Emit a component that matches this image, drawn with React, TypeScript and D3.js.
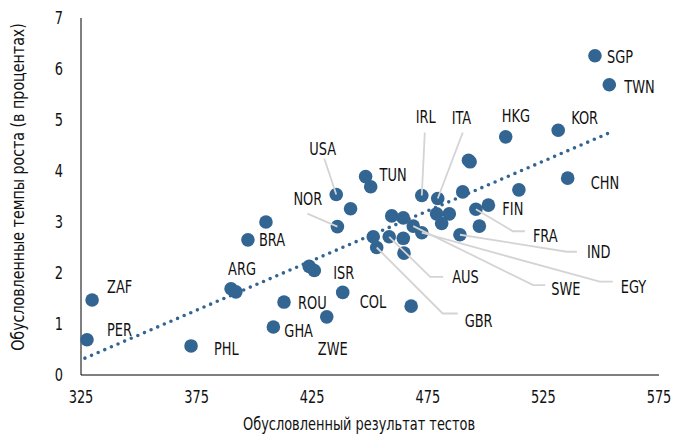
import * as d3 from "d3";

// страны (пустая строка — точка без подписи)
const codes = [
  "PER", "ZAF", "PHL", "ARG", "", "BRA", "", "GHA", "ROU", "ZWE", "COL", "ISR", "",
  "NOR", "USA", "", "TUN", "", "", "", "", "GBR", "AUS", "", "", "SWE", "EGY",
  "", "", "", "IRL", "ITA", "", "", "", "FRA", "FIN", "IND", "", "HKG", "", "KOR",
  "CHN", "SGP", "TWN",
];
const scores = [
  327.6, 329.8, 372.6, 389.9, 392.0, 397.2, 405.0, 408.2, 412.8, 431.3, 438.2, 423.7, 425.9,
  435.9, 435.4, 441.6, 448.1, 450.3, 459.4, 464.4, 451.4, 452.9, 458.3, 464.4, 464.7, 468.7, 472.4,
  478.8, 484.3, 481.0, 472.4, 479.3, 497.3, 490.1, 493.3, 495.8, 501.2, 488.9, 514.4, 508.7, 467.8, 531.4,
  535.5, 547.3, 553.5,
];
const growth = [
  0.69, 1.47, 0.57, 1.69, 1.63, 2.65, 3.0, 0.94, 1.43, 1.14, 1.62, 2.13, 2.05,
  2.91, 3.54, 3.26, 3.89, 3.69, 3.12, 3.08, 2.71, 2.5, 2.71, 2.68, 2.39, 2.92, 2.79,
  3.16, 3.16, 2.97, 3.52, 3.46, 2.92, 3.59, 4.18, 3.25, 3.33, 2.75, 3.63, 4.67, 1.35, 4.8,
  3.86, 6.26, 5.69,
];
const extraScores = [492.6];
const extraGrowth = [4.21];

const xTicks = [325, 375, 425, 475, 525, 575];
const yTicks = [0, 1, 2, 3, 4, 5, 6, 7];
const trendScores = [326.7, 553.1];
const trendGrowth = [0.33, 4.74];

// раскладка подписей: смещение текста от точки и изломы выносок (в пикселях)
const layout: Record<string, { dx: number; dy: number; leader?: number[][] }> = {
  SGP: { dx: 12, dy: 1 },
  TWN: { dx: 15, dy: 2 },
  KOR: { dx: 13, dy: -13 },
  HKG: { dx: -4, dy: -21 },
  CHN: { dx: 23, dy: 4 },
  FIN: { dx: 14, dy: 3 },
  FRA: { dx: 57, dy: 26, leader: [[37, 22], [49, 22]] },
  IND: { dx: 127, dy: 17, leader: [[107, 17], [117, 17]] },
  SWE: { dx: 138, dy: 62, leader: [[120, 59], [132, 59]] },
  EGY: { dx: 199, dy: 54, leader: [[178, 49], [191, 49]] },
  AUS: { dx: 63, dy: 40, leader: [[41, 40], [54, 40]] },
  GBR: { dx: 88, dy: 73, leader: [[66, 66], [81, 66]] },
  NOR: { dx: -44, dy: -28, leader: [[-30, -13]] },
  USA: { dx: -27, dy: -46, leader: [[-12, -36]] },
  TUN: { dx: 14, dy: -2 },
  IRL: { dx: -6, dy: -79, leader: [[3, -63]] },
  ITA: { dx: 14, dy: -81, leader: [[25, -66]] },
  ISR: { dx: 24, dy: 6 },
  COL: { dx: 17, dy: 9 },
  ZWE: { dx: -9, dy: 32 },
  ROU: { dx: 14, dy: 0 },
  GHA: { dx: 11, dy: 3 },
  ARG: { dx: -3, dy: -20 },
  BRA: { dx: 11, dy: 0 },
  ZAF: { dx: 15, dy: -14 },
  PER: { dx: 20, dy: -10 },
  PHL: { dx: 23, dy: 3 },
};

const W = 676;
const H = 435;
const font = "'DejaVu Sans Condensed', 'Liberation Sans Narrow', 'Roboto', sans-serif";
const dotColor = "#336592";

// узкий текст: шрифт сжимается по горизонтали
function T({ x, y, text, anchor = "start", sx = 0.8, size = 18, rotate = 0 }: any) {
  return (
    <g transform={`translate(${x},${y}) rotate(${rotate}) scale(${sx},1)`}>
      <text textAnchor={anchor} dy="0.36em" fontSize={size} fill="#111">
        {text}
      </text>
    </g>
  );
}

export default function App() {
  const x = d3.scaleLinear().domain([325, 575]).range([81, 659]);
  const y = d3.scaleLinear().domain([0, 7]).range([375, 18]);

  const points = codes.map((c, i) => ({ code: c, px: x(scores[i]), py: y(growth[i]) }));
  extraScores.forEach((s, i) => points.push({ code: "", px: x(s), py: y(extraGrowth[i]) }));

  const trend = d3
    .line<number>()
    .x((d) => x(d))
    .y((_, i) => y(trendGrowth[i]))(trendScores);

  return (
    <svg
      width={W}
      height={H}
      style={{ position: "absolute", left: 0, top: 0, background: "#fff" }}
      fontFamily={font}
    >
      {/* оси */}
      <line x1={x(325)} x2={x(575)} y1={y(0)} y2={y(0)} stroke="#000" strokeWidth={1} />
      <line x1={x(325)} x2={x(325)} y1={y(0)} y2={y(7)} stroke="#000" strokeWidth={1} />
      {xTicks.map((t) => (
        <T key={t} x={x(t)} y={397} text={t} anchor="middle" />
      ))}
      {yTicks.map((t) => (
        <T key={t} x={63} y={y(t)} text={t} anchor="end" />
      ))}
      <T x={359} y={424} text="Обусловленный результат тестов" anchor="middle" />
      <T
        x={18}
        y={187}
        rotate={-90}
        sx={0.88}
        text="Обусловленные темпы роста (в процентах)"
        anchor="middle"
      />

      {/* линия тренда */}
      <path
        d={trend ?? ""}
        fill="none"
        stroke={dotColor}
        strokeWidth={3.6}
        strokeLinecap="round"
        strokeDasharray="0 7.2"
      />

      {/* точки */}
      <g fill={dotColor}>
        {points.map((p, i) => (
          <circle key={i} cx={p.px} cy={p.py} r={6.8} />
        ))}
      </g>

      {/* выноски */}
      <g fill="none" stroke="#d4d4d4" strokeWidth={1.8}>
        {points
          .filter((p) => p.code && layout[p.code]?.leader)
          .map((p) => {
            const pts = [[0, 0], ...layout[p.code].leader!].map(([dx, dy]) => [p.px + dx, p.py + dy]);
            return <path key={p.code} d={d3.line()(pts as [number, number][]) ?? ""} />;
          })}
      </g>

      {/* подписи */}
      {points
        .filter((p) => p.code)
        .map((p) => {
          const l = layout[p.code];
          return <T key={p.code} x={p.px + l.dx} y={p.py + l.dy} text={p.code} />;
        })}
    </svg>
  );
}
